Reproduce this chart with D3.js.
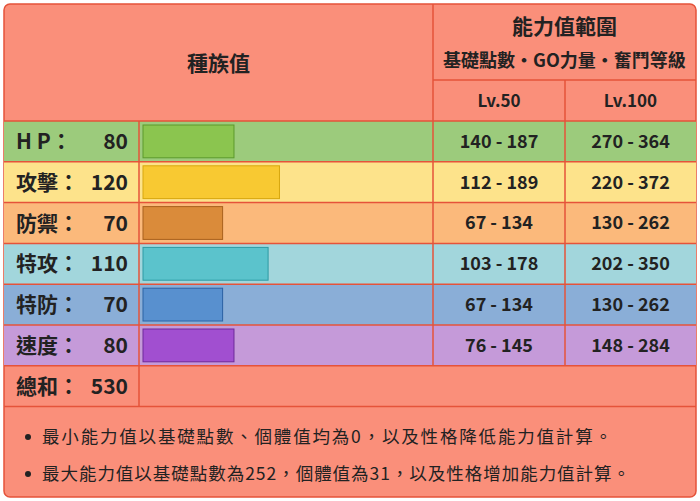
<!DOCTYPE html>
<html><head><meta charset="utf-8">
<script src="https://cdn.jsdelivr.net/npm/d3@7"></script>
<style>body{margin:0;background:#fff}text{font-family:"Noto Sans CJK TC","Noto Sans",sans-serif}</style>
</head><body><svg id="c" width="700" height="501"></svg>
<script>
const statNames = ['H P：', '攻擊：', '防禦：', '特攻：', '特防：', '速度：'];
const baseStats = [80, 120, 70, 110, 70, 80];
const lv50 = ['140 - 187', '112 - 189', '67 - 134', '103 - 178', '67 - 134', '76 - 145'];
const lv100 = ['270 - 364', '220 - 372', '130 - 262', '202 - 350', '130 - 262', '148 - 284'];
const rowBg = ['#9ccb7c', '#fde38b', '#fbb97b', '#a2d6dc', '#8aaed7', '#c59ad9'];
const barFill = ['#8bc54f', '#f8c932', '#da8b3a', '#5bc3cc', '#5890cf', '#a14fd0'];
const barStroke = ['#5c9a2c', '#d7a70e', '#a8611d', '#2e9aa3', '#2b62a4', '#6e2a99'];
const total = 530;
const notes = ['最小能力值以基礎點數、個體值均為0，以及性格降低能力值計算。',
  '最大能力值以基礎點數為252，個體值為31，以及性格增加能力值計算。'];

const svg = d3.select('#c');
const red = '#e5533a', bg = '#fa8f7a';
const cols = [4, 139, 433, 565, 696];
const rowTop = 121, rowH = 40.8;
const y = d3.scaleBand().domain(d3.range(7)).range([rowTop, rowTop + rowH * 7]).padding(0);
const x = d3.scaleLinear().domain([0, 255]).range([143, 433]);

svg.append('rect').attr('x', 4).attr('y', 4).attr('width', 692).attr('height', 493)
  .attr('rx', 6).attr('fill', bg).attr('stroke', red).attr('stroke-width', 1.5);

const g = svg.append('g');
baseStats.forEach((v, i) => {
  g.append('rect').attr('x', cols[0]).attr('y', y(i)).attr('width', cols[4] - cols[0]).attr('height', y.bandwidth()).attr('fill', rowBg[i]);
  g.append('rect').attr('x', x(0)).attr('y', y(i) + 4).attr('width', x(v) - x(0)).attr('height', y.bandwidth() - 8)
    .attr('fill', barFill[i]).attr('stroke', barStroke[i]).attr('stroke-width', 1);
  g.append('text').attr('x', 16).attr('y', y(i) + y.bandwidth() / 2).attr('dy', '0.36em')
    .attr('font-size', 21).attr('font-weight', 'bold').attr('fill', '#222').text(statNames[i]);
  g.append('text').attr('x', 128).attr('y', y(i) + y.bandwidth() / 2).attr('dy', '0.36em').attr('text-anchor', 'end')
    .attr('font-size', 21).attr('font-weight', 'bold').attr('fill', '#222').text(v);
  [lv50[i], lv100[i]].forEach((t, j) => {
    g.append('text').attr('x', (cols[2 + j] + cols[3 + j]) / 2).attr('y', y(i) + y.bandwidth() / 2).attr('dy', '0.36em')
      .attr('text-anchor', 'middle').attr('font-size', 18).attr('font-weight', 'bold').attr('fill', '#222').text(t);
  });
});
g.append('text').attr('x', 16).attr('y', y(6) + y.bandwidth() / 2).attr('dy', '0.36em')
  .attr('font-size', 21).attr('font-weight', 'bold').attr('fill', '#222').text('總和：');
g.append('text').attr('x', 128).attr('y', y(6) + y.bandwidth() / 2).attr('dy', '0.36em').attr('text-anchor', 'end')
  .attr('font-size', 21).attr('font-weight', 'bold').attr('fill', '#222').text(total);

svg.append('text').attr('x', (cols[0] + cols[2]) / 2).attr('y', 63).attr('dy', '0.36em').attr('text-anchor', 'middle')
  .attr('font-size', 21).attr('font-weight', 'bold').attr('fill', '#222').text('種族值');
svg.append('text').attr('x', (cols[2] + cols[4]) / 2).attr('y', 26).attr('dy', '0.36em').attr('text-anchor', 'middle')
  .attr('font-size', 21).attr('font-weight', 'bold').attr('fill', '#222').text('能力值範圍');
svg.append('text').attr('x', (cols[2] + cols[4]) / 2).attr('y', 61).attr('dy', '0.36em').attr('text-anchor', 'middle')
  .attr('font-size', 18).attr('font-weight', 'bold').attr('fill', '#222').text('基礎點數・GO力量・奮鬥等級');
['Lv.50', 'Lv.100'].forEach((t, j) => svg.append('text').attr('x', (cols[2 + j] + cols[3 + j]) / 2).attr('y', 101)
  .attr('dy', '0.36em').attr('text-anchor', 'middle').attr('font-size', 17).attr('font-weight', 'bold').attr('fill', '#222').text(t));

const ln = (x1, y1, x2, y2) => svg.append('line').attr('x1', x1).attr('y1', y1).attr('x2', x2).attr('y2', y2)
  .attr('stroke', red).attr('stroke-width', 1.5);
const bottom = y(6) + y.bandwidth();
ln(cols[2], 4, cols[2], y(6));
ln(cols[2], 80, cols[4], 80);
ln(cols[3], 80, cols[3], y(6));
ln(cols[1], y(0), cols[1], bottom);
d3.range(8).forEach(i => ln(cols[0], rowTop + rowH * i, cols[4], rowTop + rowH * i));

notes.forEach((t, i) => {
  svg.append('circle').attr('cx', 28).attr('cy', 437 + i * 37).attr('r', 3).attr('fill', '#222');
  svg.append('text').attr('x', 42).attr('y', 437 + i * 37).attr('dy', '0.36em').attr('font-size', 17.5)
    .attr('textLength', i ? 588 : 570).attr('fill', '#222').text(t);
});
</script></body></html>
